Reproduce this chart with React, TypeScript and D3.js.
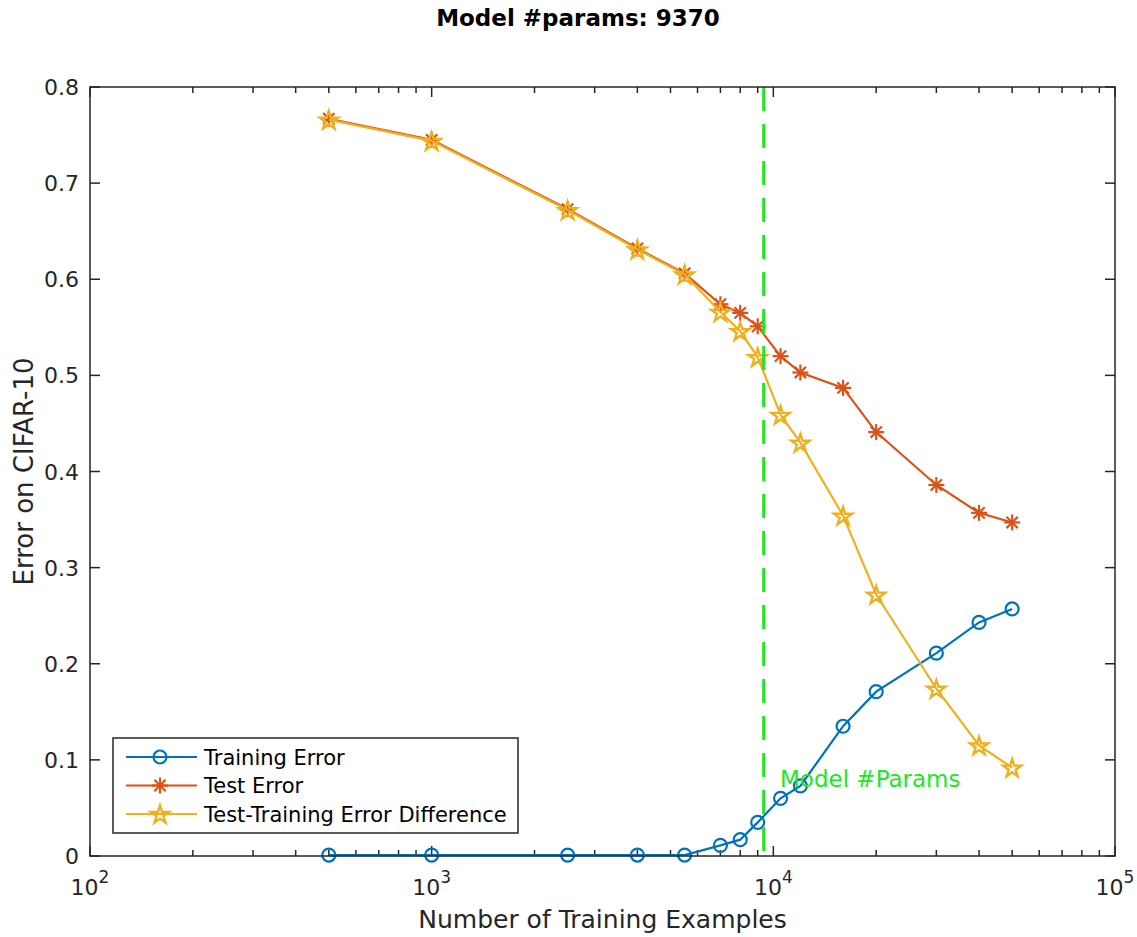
import React from "react";
import * as d3 from "d3";

const trainSizes = [500, 1000, 2500, 4000, 5500, 7000, 8000, 9000, 10500, 12000, 16000, 20000, 30000, 40000, 50000];
const trainingError = [0.001, 0.001, 0.001, 0.001, 0.001, 0.011, 0.017, 0.035, 0.060, 0.073, 0.135, 0.171, 0.211, 0.243, 0.257];
const testError = [0.767, 0.745, 0.673, 0.632, 0.606, 0.574, 0.565, 0.551, 0.520, 0.503, 0.487, 0.441, 0.386, 0.357, 0.347];
const errorDiff = [0.766, 0.744, 0.672, 0.631, 0.605, 0.566, 0.546, 0.519, 0.459, 0.430, 0.354, 0.272, 0.174, 0.115, 0.092];
const modelParams = 9370;
const yTicks = [0, 0.1, 0.2, 0.3, 0.4, 0.5, 0.6, 0.7, 0.8];
const xMajorExps = [2, 3, 4, 5];
const legendLabels = ["Training Error", "Test Error", "Test-Training Error Difference"];

const W = 1137, H = 937;
const L = 90, R = 1115, T = 87, B = 856;
const AX = "#262626";
const FONT = "DejaVu Sans, Verdana, sans-serif";
const C_BLUE = "#0072BD", C_ORANGE = "#D95319", C_YELLOW = "#EDB120", C_GREEN = "#22E622";

const x = d3.scaleLog().domain([100, 100000]).range([L, R]);
const y = d3.scaleLinear().domain([0, 0.8]).range([B, T]);

function starPath(cx: number, cy: number, ro: number) {
  const ri = ro * 0.382;
  const pts: [number, number][] = [];
  for (let i = 0; i < 10; i++) {
    const a = -Math.PI / 2 + (i * Math.PI) / 5;
    const r = i % 2 === 0 ? ro : ri;
    pts.push([cx + r * Math.cos(a), cy + r * Math.sin(a)]);
  }
  return "M" + pts.map((p) => p[0].toFixed(2) + "," + p[1].toFixed(2)).join("L") + "Z";
}

function Marker({ kind, cx, cy, color }: { kind: string; cx: number; cy: number; color: string }) {
  if (kind === "o") return <circle cx={cx} cy={cy} r={6.5} fill="none" stroke={color} strokeWidth={2.2} />;
  if (kind === "*") {
    const s = 8, d = s * 0.707;
    return (
      <g stroke={color} strokeWidth={2.2}>
        <line x1={cx - s} y1={cy} x2={cx + s} y2={cy} />
        <line x1={cx} y1={cy - s} x2={cx} y2={cy + s} />
        <line x1={cx - d} y1={cy - d} x2={cx + d} y2={cy + d} />
        <line x1={cx - d} y1={cy + d} x2={cx + d} y2={cy - d} />
      </g>
    );
  }
  return <path d={starPath(cx, cy + 1, 9.5)} fill="none" stroke={color} strokeWidth={2.4} strokeLinejoin="miter" />;
}

const series = [
  { vals: trainingError, color: C_BLUE, kind: "o" },
  { vals: testError, color: C_ORANGE, kind: "*" },
  { vals: errorDiff, color: C_YELLOW, kind: "p" },
];

export default function App() {
  const line = d3.line<number>().x((_, i) => x(trainSizes[i])).y((v) => y(v));
  const minorTicks: number[] = [];
  for (let e = 2; e < 5; e++) for (let m = 2; m <= 9; m++) minorTicks.push(m * Math.pow(10, e));
  const gx = x(modelParams);
  return (
    <svg width={W} height={H} style={{ position: "absolute", left: 0, top: 0, background: "#fff" }} fontFamily={FONT}>
      <rect x={0} y={0} width={W} height={H} fill="#fff" />
      <text x={578} y={26} textAnchor="middle" fontSize={23} fontWeight="bold" fill="#000">Model #params: {modelParams}</text>

      {/* ticks */}
      <g stroke={AX} strokeWidth={1.5}>
        {yTicks.map((t) => (
          <g key={"y" + t}>
            <line x1={L} x2={L + 10} y1={y(t)} y2={y(t)} />
            <line x1={R} x2={R - 10} y1={y(t)} y2={y(t)} />
          </g>
        ))}
        {xMajorExps.map((e) => (
          <g key={"x" + e}>
            <line x1={x(Math.pow(10, e))} x2={x(Math.pow(10, e))} y1={B} y2={B - 10} />
            <line x1={x(Math.pow(10, e))} x2={x(Math.pow(10, e))} y1={T} y2={T + 10} />
          </g>
        ))}
        {minorTicks.map((t) => (
          <g key={"m" + t}>
            <line x1={x(t)} x2={x(t)} y1={B} y2={B - 6} />
            <line x1={x(t)} x2={x(t)} y1={T} y2={T + 6} />
          </g>
        ))}
      </g>

      {/* series */}
      {series.map((s, si) => (
        <g key={"s" + si}>
          <path d={line(s.vals) || ""} fill="none" stroke={s.color} strokeWidth={2.2} />
          {s.vals.map((v, i) => (
            <Marker key={i} kind={s.kind} cx={x(trainSizes[i])} cy={y(v)} color={s.color} />
          ))}
        </g>
      ))}

      {/* model params line */}
      <line x1={gx} x2={gx} y1={T} y2={B} stroke={C_GREEN} strokeWidth={3} strokeDasharray="24 13" />
      <text x={780} y={787} fontSize={23} fill={C_GREEN}>Model #Params</text>

      {/* box */}
      <rect x={L} y={T} width={R - L} height={B - T} fill="none" stroke={AX} strokeWidth={1.5} />

      {/* tick labels */}
      {yTicks.map((t) => (
        <text key={"yl" + t} x={79} y={y(t) + 8} textAnchor="end" fontSize={22} fill={AX}>
          {t === 0 ? "0" : t.toFixed(1)}
        </text>
      ))}
      {xMajorExps.map((e) => (
        <text key={"xl" + e} x={x(Math.pow(10, e))} y={895} textAnchor="middle" fontSize={22} fill={AX}>
          10<tspan fontSize={17} dy={-12}>{e}</tspan>
        </text>
      ))}
      <text x={(L + R) / 2} y={928} textAnchor="middle" fontSize={25} fill={AX}>Number of Training Examples</text>
      <text transform={`translate(33,${(T + B) / 2}) rotate(-90)`} textAnchor="middle" fontSize={26} fill={AX}>Error on CIFAR-10</text>

      {/* legend */}
      <rect x={113} y={738} width={405} height={95} fill="#fff" stroke={AX} strokeWidth={1.5} />
      {series.map((s, i) => {
        const ly = 757 + i * 28.5;
        return (
          <g key={"lg" + i}>
            <line x1={126} x2={197} y1={ly} y2={ly} stroke={s.color} strokeWidth={2.2} />
            <Marker kind={s.kind} cx={160} cy={ly} color={s.color} />
            <text x={204} y={ly + 7.5} fontSize={21} fill="#000">{legendLabels[i]}</text>
          </g>
        );
      })}
    </svg>
  );
}
